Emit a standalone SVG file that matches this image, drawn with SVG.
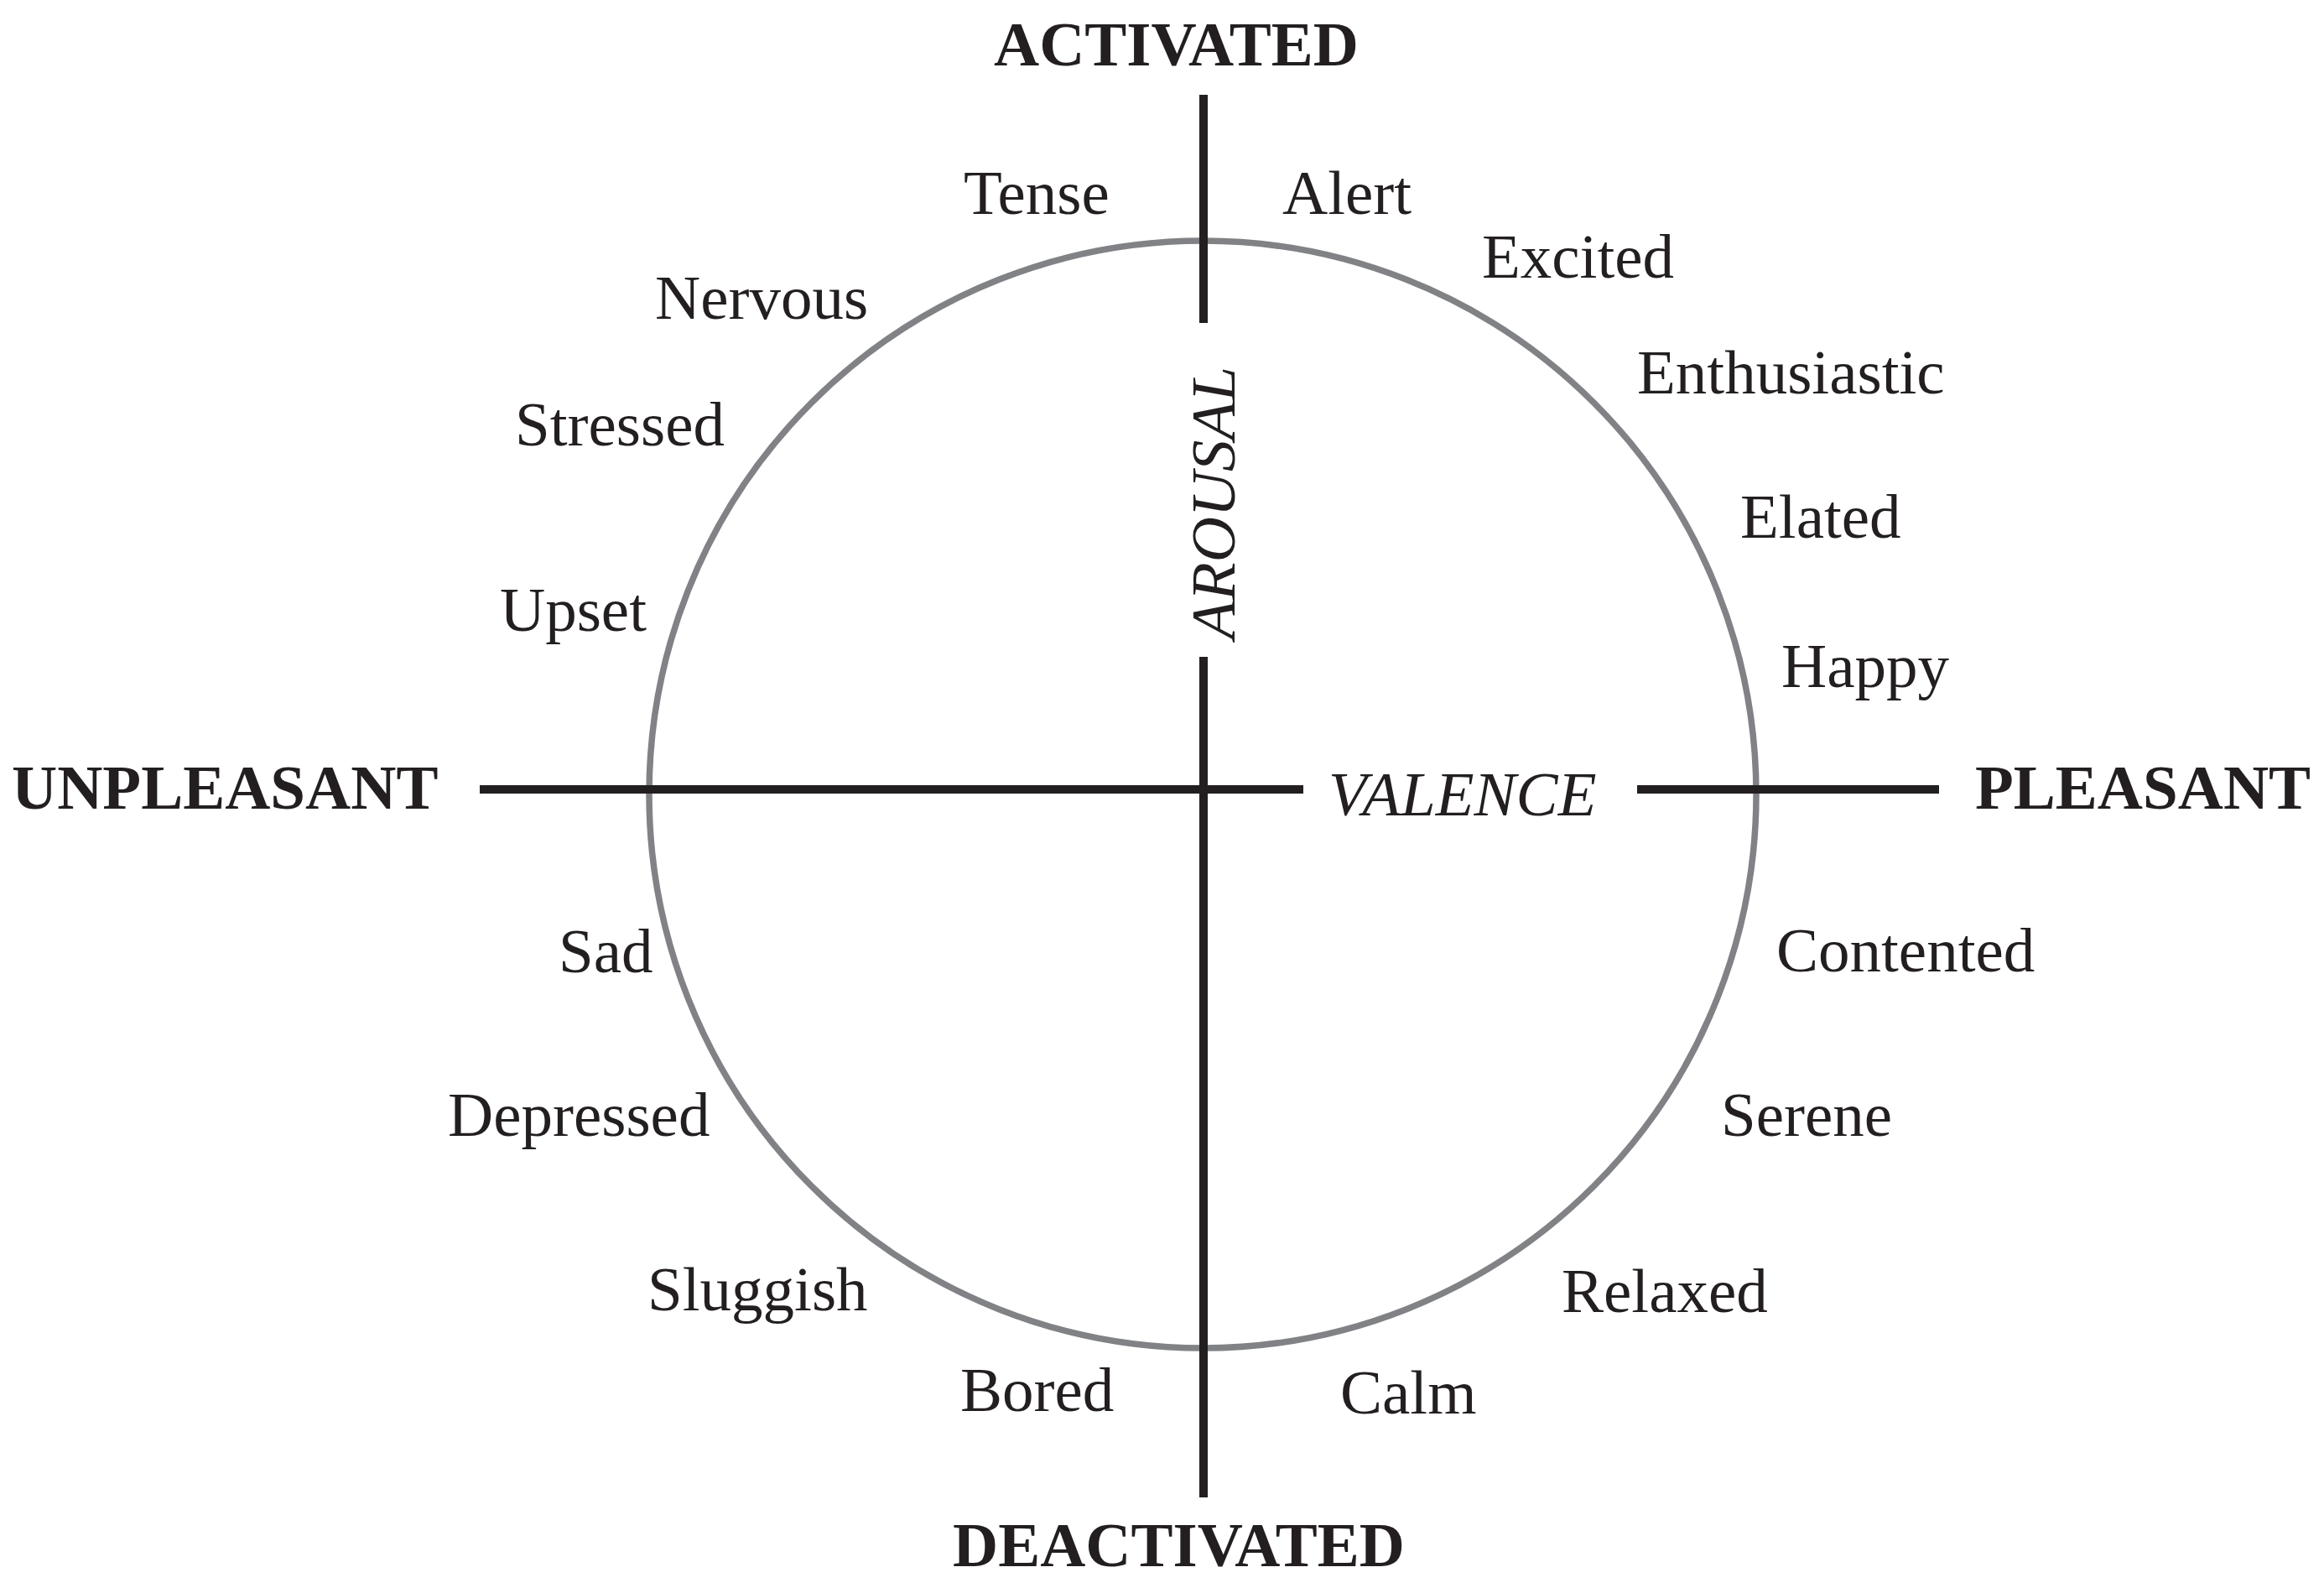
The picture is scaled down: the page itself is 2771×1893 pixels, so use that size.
<svg xmlns="http://www.w3.org/2000/svg" width="2771" height="1893" viewBox="0 0 2771 1893">
<style>
.lbl{font-family:"Liberation Serif","Times New Roman",serif;font-size:75px;fill:#231f20}
.pole{font-family:"Liberation Serif","Times New Roman",serif;font-size:75px;font-weight:bold;fill:#231f20}
.axis{font-family:"Liberation Serif","Times New Roman",serif;font-size:75px;font-style:italic;fill:#231f20}
.ax{stroke:#231f20;stroke-width:10;fill:none}
</style>
<rect width="2771" height="1893" fill="#ffffff"/>
<g id="circle"><circle cx="1434" cy="947" r="660" fill="none" stroke="#808285" stroke-width="7.5"/></g>
<g id="connectors">
<line class="ax" x1="1435" y1="113" x2="1435" y2="385"/>
<line class="ax" x1="1435" y1="783" x2="1435" y2="1785"/>
<line class="ax" x1="572" y1="941" x2="1554" y2="941"/>
<line class="ax" x1="1952" y1="941" x2="2312" y2="941"/>
</g>
<g id="activated"><text class="pole" x="1185" y="78">ACTIVATED</text></g>
<g id="deactivated"><text class="pole" x="1136" y="1867">DEACTIVATED</text></g>
<g id="unpleasant"><text class="pole" x="14" y="964">UNPLEASANT</text></g>
<g id="pleasant"><text class="pole" x="2355" y="964">PLEASANT</text></g>
<g id="arousal"><text class="axis" transform="translate(1472,762) rotate(-90)">AROUSAL</text></g>
<g id="valence"><text class="axis" x="1584" y="972">VALENCE</text></g>
<g id="tense"><text class="lbl" x="1149" y="255">Tense</text></g>
<g id="alert"><text class="lbl" x="1529" y="255">Alert</text></g>
<g id="excited"><text class="lbl" x="1767" y="331">Excited</text></g>
<g id="nervous"><text class="lbl" x="781" y="380">Nervous</text></g>
<g id="enthusiastic"><text class="lbl" x="1952" y="469">Enthusiastic</text></g>
<g id="stressed"><text class="lbl" x="614" y="531">Stressed</text></g>
<g id="elated"><text class="lbl" x="2075" y="641">Elated</text></g>
<g id="upset"><text class="lbl" x="596" y="752">Upset</text></g>
<g id="happy"><text class="lbl" x="2124" y="819">Happy</text></g>
<g id="contented"><text class="lbl" x="2118" y="1158">Contented</text></g>
<g id="sad"><text class="lbl" x="666" y="1159">Sad</text></g>
<g id="serene"><text class="lbl" x="2052" y="1354">Serene</text></g>
<g id="depressed"><text class="lbl" x="534" y="1354">Depressed</text></g>
<g id="relaxed"><text class="lbl" x="1862" y="1564">Relaxed</text></g>
<g id="sluggish"><text class="lbl" x="772" y="1562">Sluggish</text></g>
<g id="bored"><text class="lbl" x="1145" y="1682">Bored</text></g>
<g id="calm"><text class="lbl" x="1598" y="1685">Calm</text></g>
</svg>
